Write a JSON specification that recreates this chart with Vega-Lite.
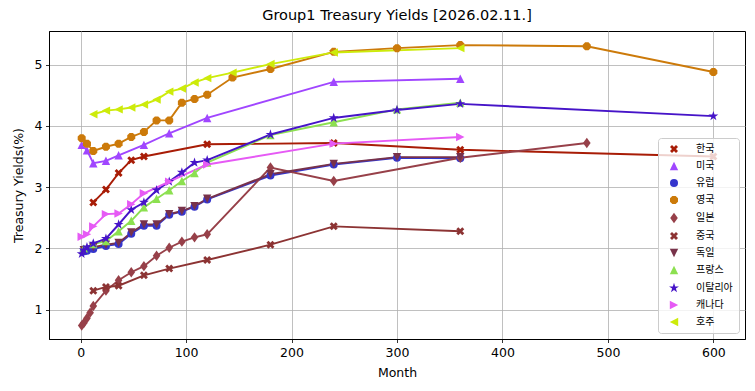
{
  "$schema": "https://vega.github.io/schema/vega-lite/v6.json",
  "autosize": "none",
  "width": 696,
  "height": 308,
  "padding": {"left": 49, "top": 31, "right": 10, "bottom": 52},
  "background": "white",
  "title": {"text": "Group1 Treasury Yields [2026.02.11.]", "font": "DejaVu Sans", "fontSize": 14.5, "fontWeight": "normal", "color": "black", "anchor": "middle", "offset": 8},
  "datasets": {
    "yields": [
      {"c": "한국", "m": 12, "y": 2.75}, {"c": "한국", "m": 24, "y": 2.96}, {"c": "한국", "m": 36, "y": 3.23}, {"c": "한국", "m": 48, "y": 3.44}, {"c": "한국", "m": 60, "y": 3.50}, {"c": "한국", "m": 120, "y": 3.70}, {"c": "한국", "m": 240, "y": 3.72}, {"c": "한국", "m": 360, "y": 3.61}, {"c": "한국", "m": 600, "y": 3.50},
      {"c": "미국", "m": 1, "y": 3.69}, {"c": "미국", "m": 6, "y": 3.60}, {"c": "미국", "m": 12, "y": 3.39}, {"c": "미국", "m": 24, "y": 3.43}, {"c": "미국", "m": 36, "y": 3.52}, {"c": "미국", "m": 60, "y": 3.69}, {"c": "미국", "m": 84, "y": 3.88}, {"c": "미국", "m": 120, "y": 4.13}, {"c": "미국", "m": 240, "y": 4.72}, {"c": "미국", "m": 360, "y": 4.77},
      {"c": "유럽", "m": 3, "y": 1.95}, {"c": "유럽", "m": 6, "y": 1.96}, {"c": "유럽", "m": 12, "y": 1.99}, {"c": "유럽", "m": 24, "y": 2.04}, {"c": "유럽", "m": 36, "y": 2.07}, {"c": "유럽", "m": 48, "y": 2.24}, {"c": "유럽", "m": 60, "y": 2.37}, {"c": "유럽", "m": 72, "y": 2.37}, {"c": "유럽", "m": 84, "y": 2.55}, {"c": "유럽", "m": 96, "y": 2.60}, {"c": "유럽", "m": 108, "y": 2.68}, {"c": "유럽", "m": 120, "y": 2.80}, {"c": "유럽", "m": 180, "y": 3.19}, {"c": "유럽", "m": 240, "y": 3.37}, {"c": "유럽", "m": 300, "y": 3.48}, {"c": "유럽", "m": 360, "y": 3.47},
      {"c": "영국", "m": 1, "y": 3.80}, {"c": "영국", "m": 6, "y": 3.71}, {"c": "영국", "m": 12, "y": 3.59}, {"c": "영국", "m": 24, "y": 3.66}, {"c": "영국", "m": 36, "y": 3.71}, {"c": "영국", "m": 48, "y": 3.82}, {"c": "영국", "m": 60, "y": 3.90}, {"c": "영국", "m": 72, "y": 4.09}, {"c": "영국", "m": 84, "y": 4.09}, {"c": "영국", "m": 96, "y": 4.38}, {"c": "영국", "m": 108, "y": 4.44}, {"c": "영국", "m": 120, "y": 4.51}, {"c": "영국", "m": 144, "y": 4.79}, {"c": "영국", "m": 180, "y": 4.93}, {"c": "영국", "m": 240, "y": 5.21}, {"c": "영국", "m": 300, "y": 5.27}, {"c": "영국", "m": 360, "y": 5.32}, {"c": "영국", "m": 480, "y": 5.30}, {"c": "영국", "m": 600, "y": 4.88},
      {"c": "일본", "m": 1, "y": 0.74}, {"c": "일본", "m": 3, "y": 0.78}, {"c": "일본", "m": 6, "y": 0.86}, {"c": "일본", "m": 9, "y": 0.95}, {"c": "일본", "m": 12, "y": 1.06}, {"c": "일본", "m": 24, "y": 1.31}, {"c": "일본", "m": 36, "y": 1.48}, {"c": "일본", "m": 48, "y": 1.61}, {"c": "일본", "m": 60, "y": 1.71}, {"c": "일본", "m": 72, "y": 1.88}, {"c": "일본", "m": 84, "y": 2.01}, {"c": "일본", "m": 96, "y": 2.11}, {"c": "일본", "m": 108, "y": 2.18}, {"c": "일본", "m": 120, "y": 2.23}, {"c": "일본", "m": 180, "y": 3.32}, {"c": "일본", "m": 240, "y": 3.10}, {"c": "일본", "m": 360, "y": 3.48}, {"c": "일본", "m": 480, "y": 3.72},
      {"c": "중국", "m": 12, "y": 1.31}, {"c": "중국", "m": 24, "y": 1.37}, {"c": "중국", "m": 36, "y": 1.39}, {"c": "중국", "m": 60, "y": 1.56}, {"c": "중국", "m": 84, "y": 1.67}, {"c": "중국", "m": 120, "y": 1.81}, {"c": "중국", "m": 180, "y": 2.06}, {"c": "중국", "m": 240, "y": 2.36}, {"c": "중국", "m": 360, "y": 2.28},
      {"c": "독일", "m": 3, "y": 1.97}, {"c": "독일", "m": 12, "y": 2.02}, {"c": "독일", "m": 24, "y": 2.06}, {"c": "독일", "m": 36, "y": 2.09}, {"c": "독일", "m": 48, "y": 2.26}, {"c": "독일", "m": 60, "y": 2.39}, {"c": "독일", "m": 72, "y": 2.39}, {"c": "독일", "m": 84, "y": 2.56}, {"c": "독일", "m": 96, "y": 2.61}, {"c": "독일", "m": 108, "y": 2.69}, {"c": "독일", "m": 120, "y": 2.81}, {"c": "독일", "m": 180, "y": 3.21}, {"c": "독일", "m": 240, "y": 3.38}, {"c": "독일", "m": 300, "y": 3.49}, {"c": "독일", "m": 360, "y": 3.49},
      {"c": "프랑스", "m": 3, "y": 2.00}, {"c": "프랑스", "m": 12, "y": 2.07}, {"c": "프랑스", "m": 24, "y": 2.12}, {"c": "프랑스", "m": 36, "y": 2.28}, {"c": "프랑스", "m": 48, "y": 2.45}, {"c": "프랑스", "m": 60, "y": 2.67}, {"c": "프랑스", "m": 72, "y": 2.81}, {"c": "프랑스", "m": 84, "y": 2.95}, {"c": "프랑스", "m": 96, "y": 3.10}, {"c": "프랑스", "m": 108, "y": 3.23}, {"c": "프랑스", "m": 120, "y": 3.40}, {"c": "프랑스", "m": 180, "y": 3.85}, {"c": "프랑스", "m": 240, "y": 4.06}, {"c": "프랑스", "m": 300, "y": 4.27}, {"c": "프랑스", "m": 360, "y": 4.38},
      {"c": "이탈리아", "m": 1, "y": 1.91}, {"c": "이탈리아", "m": 3, "y": 1.97}, {"c": "이탈리아", "m": 6, "y": 2.02}, {"c": "이탈리아", "m": 12, "y": 2.08}, {"c": "이탈리아", "m": 24, "y": 2.16}, {"c": "이탈리아", "m": 36, "y": 2.39}, {"c": "이탈리아", "m": 48, "y": 2.63}, {"c": "이탈리아", "m": 60, "y": 2.75}, {"c": "이탈리아", "m": 72, "y": 2.95}, {"c": "이탈리아", "m": 84, "y": 3.09}, {"c": "이탈리아", "m": 96, "y": 3.24}, {"c": "이탈리아", "m": 108, "y": 3.40}, {"c": "이탈리아", "m": 120, "y": 3.44}, {"c": "이탈리아", "m": 180, "y": 3.86}, {"c": "이탈리아", "m": 240, "y": 4.13}, {"c": "이탈리아", "m": 300, "y": 4.26}, {"c": "이탈리아", "m": 360, "y": 4.36}, {"c": "이탈리아", "m": 600, "y": 4.16},
      {"c": "캐나다", "m": 1, "y": 2.19}, {"c": "캐나다", "m": 6, "y": 2.23}, {"c": "캐나다", "m": 12, "y": 2.36}, {"c": "캐나다", "m": 24, "y": 2.56}, {"c": "캐나다", "m": 36, "y": 2.57}, {"c": "캐나다", "m": 48, "y": 2.72}, {"c": "캐나다", "m": 60, "y": 2.90}, {"c": "캐나다", "m": 84, "y": 3.09}, {"c": "캐나다", "m": 120, "y": 3.37}, {"c": "캐나다", "m": 240, "y": 3.71}, {"c": "캐나다", "m": 360, "y": 3.82},
      {"c": "호주", "m": 12, "y": 4.19}, {"c": "호주", "m": 24, "y": 4.25}, {"c": "호주", "m": 36, "y": 4.27}, {"c": "호주", "m": 48, "y": 4.30}, {"c": "호주", "m": 60, "y": 4.35}, {"c": "호주", "m": 72, "y": 4.43}, {"c": "호주", "m": 84, "y": 4.56}, {"c": "호주", "m": 96, "y": 4.61}, {"c": "호주", "m": 108, "y": 4.71}, {"c": "호주", "m": 120, "y": 4.78}, {"c": "호주", "m": 144, "y": 4.87}, {"c": "호주", "m": 180, "y": 5.01}, {"c": "호주", "m": 240, "y": 5.20}, {"c": "호주", "m": 360, "y": 5.27}
    ]
  },
  "data": {"name": "yields"},
  "encoding": {
    "x": {"field": "m", "type": "quantitative", "title": "Month",
      "scale": {"domain": [-30, 630], "nice": false, "zero": false},
      "axis": {"values": [0, 100, 200, 300, 400, 500, 600]}},
    "y": {"field": "y", "type": "quantitative", "title": "Treasury Yields(%)",
      "scale": {"domain": [0.52, 5.55], "nice": false, "zero": false},
      "axis": {"values": [1, 2, 3, 4, 5]}},
    "color": {"field": "c", "type": "nominal", "title": null,
      "scale": {
        "domain": ["한국", "미국", "유럽", "영국", "일본", "중국", "독일", "프랑스", "이탈리아", "캐나다", "호주"],
        "range": ["#a81c06", "#a046ff", "#3535cc", "#cc7a0a", "#974049", "#8c3333", "#78324a", "#8ce050", "#4614c8", "#e65af5", "#cdeb0a"]
      },
      "legend": {
        "encode": {
          "symbols": {
            "update": {
              "shape": {"signal": "({'한국': 'M-1,-0.5L-0.5,-1L0,-0.5L0.5,-1L1,-0.5L0.5,0L1,0.5L0.5,1L0,0.5L-0.5,1L-1,0.5L-0.5,0ZM-2.5,-0.24L2.5,-0.24L2.5,0.24L-2.5,0.24Z', '미국': 'M0,-1.05L1.05,1.05L-1.05,1.05ZM-2.5,-0.24L2.5,-0.24L2.5,0.24L-2.5,0.24Z', '유럽': 'M1.13,0A1.13,1.13,0,1,1,-1.13,0A1.13,1.13,0,1,1,1.13,0ZM-2.5,-0.24L2.5,-0.24L2.5,0.24L-2.5,0.24Z', '영국': 'M1.0,0.42L0.42,1.0L-0.42,1.0L-1.0,0.42L-1.0,-0.42L-0.42,-1.0L0.42,-1.0L1.0,-0.42ZM-2.5,-0.24L2.5,-0.24L2.5,0.24L-2.5,0.24Z', '일본': 'M0,-1.3L0.95,0L0,1.3L-0.95,0ZM-2.5,-0.24L2.5,-0.24L2.5,0.24L-2.5,0.24Z', '중국': 'M-1,-0.5L-0.5,-1L0,-0.5L0.5,-1L1,-0.5L0.5,0L1,0.5L0.5,1L0,0.5L-0.5,1L-1,0.5L-0.5,0ZM-2.5,-0.24L2.5,-0.24L2.5,0.24L-2.5,0.24Z', '독일': 'M0,1.05L-1.05,-1.05L1.05,-1.05ZM-2.5,-0.24L2.5,-0.24L2.5,0.24L-2.5,0.24Z', '프랑스': 'M0,-1.05L1.05,1.05L-1.05,1.05ZM-2.5,-0.24L2.5,-0.24L2.5,0.24L-2.5,0.24Z', '이탈리아': 'M0,-1.3L0.292,-0.402L1.236,-0.402L0.472,0.153L0.764,1.052L0,0.497L-0.764,1.052L-0.472,0.153L-1.236,-0.402L-0.292,-0.402ZM-2.5,-0.24L2.5,-0.24L2.5,0.24L-2.5,0.24Z', '캐나다': 'M1.05,0L-1.05,1.05L-1.05,-1.05ZM-2.5,-0.24L2.5,-0.24L2.5,0.24L-2.5,0.24Z', '호주': 'M-1.05,0L1.05,-1.05L1.05,1.05ZM-2.5,-0.24L2.5,-0.24L2.5,0.24L-2.5,0.24Z'})[datum.value]"}
            }
          }
        }
      }}
  },
  "layer": [
    {"mark": {"type": "line", "strokeWidth": 1.9}},
    {"mark": {"type": "point", "filled": true, "opacity": 1, "size": 64},
      "encoding": {
        "shape": {"field": "c", "type": "nominal", "title": null,
          "legend": {
            "encode": {
              "symbols": {
                "update": {
                  "shape": {"signal": "({'한국': 'M-1,-0.5L-0.5,-1L0,-0.5L0.5,-1L1,-0.5L0.5,0L1,0.5L0.5,1L0,0.5L-0.5,1L-1,0.5L-0.5,0ZM-2.5,-0.24L2.5,-0.24L2.5,0.24L-2.5,0.24Z', '미국': 'M0,-1.05L1.05,1.05L-1.05,1.05ZM-2.5,-0.24L2.5,-0.24L2.5,0.24L-2.5,0.24Z', '유럽': 'M1.13,0A1.13,1.13,0,1,1,-1.13,0A1.13,1.13,0,1,1,1.13,0ZM-2.5,-0.24L2.5,-0.24L2.5,0.24L-2.5,0.24Z', '영국': 'M1.0,0.42L0.42,1.0L-0.42,1.0L-1.0,0.42L-1.0,-0.42L-0.42,-1.0L0.42,-1.0L1.0,-0.42ZM-2.5,-0.24L2.5,-0.24L2.5,0.24L-2.5,0.24Z', '일본': 'M0,-1.3L0.95,0L0,1.3L-0.95,0ZM-2.5,-0.24L2.5,-0.24L2.5,0.24L-2.5,0.24Z', '중국': 'M-1,-0.5L-0.5,-1L0,-0.5L0.5,-1L1,-0.5L0.5,0L1,0.5L0.5,1L0,0.5L-0.5,1L-1,0.5L-0.5,0ZM-2.5,-0.24L2.5,-0.24L2.5,0.24L-2.5,0.24Z', '독일': 'M0,1.05L-1.05,-1.05L1.05,-1.05ZM-2.5,-0.24L2.5,-0.24L2.5,0.24L-2.5,0.24Z', '프랑스': 'M0,-1.05L1.05,1.05L-1.05,1.05ZM-2.5,-0.24L2.5,-0.24L2.5,0.24L-2.5,0.24Z', '이탈리아': 'M0,-1.3L0.292,-0.402L1.236,-0.402L0.472,0.153L0.764,1.052L0,0.497L-0.764,1.052L-0.472,0.153L-1.236,-0.402L-0.292,-0.402ZM-2.5,-0.24L2.5,-0.24L2.5,0.24L-2.5,0.24Z', '캐나다': 'M1.05,0L-1.05,1.05L-1.05,-1.05ZM-2.5,-0.24L2.5,-0.24L2.5,0.24L-2.5,0.24Z', '호주': 'M-1.05,0L1.05,-1.05L1.05,1.05ZM-2.5,-0.24L2.5,-0.24L2.5,0.24L-2.5,0.24Z'})[datum.value]"}
                }
              }
            }
          },
          "scale": {
            "domain": ["한국", "미국", "유럽", "영국", "일본", "중국", "독일", "프랑스", "이탈리아", "캐나다", "호주"],
            "range": [
              "M-1,-0.5L-0.5,-1L0,-0.5L0.5,-1L1,-0.5L0.5,0L1,0.5L0.5,1L0,0.5L-0.5,1L-1,0.5L-0.5,0Z",
              "M0,-1.05L1.05,1.05L-1.05,1.05Z",
              "circle",
              "M1.0,0.42L0.42,1.0L-0.42,1.0L-1.0,0.42L-1.0,-0.42L-0.42,-1.0L0.42,-1.0L1.0,-0.42Z",
              "M0,-1.3L0.95,0L0,1.3L-0.95,0Z",
              "M-1,-0.5L-0.5,-1L0,-0.5L0.5,-1L1,-0.5L0.5,0L1,0.5L0.5,1L0,0.5L-0.5,1L-1,0.5L-0.5,0Z",
              "M0,1.05L-1.05,-1.05L1.05,-1.05Z",
              "M0,-1.05L1.05,1.05L-1.05,1.05Z",
              "M0,-1.3L0.292,-0.402L1.236,-0.402L0.472,0.153L0.764,1.052L0,0.497L-0.764,1.052L-0.472,0.153L-1.236,-0.402L-0.292,-0.402Z",
              "M1.05,0L-1.05,1.05L-1.05,-1.05Z",
              "M-1.05,0L1.05,-1.05L1.05,1.05Z"
            ]
          }}
      }}
  ],
  "config": {
    "font": "DejaVu Sans",
    "view": {"stroke": "black", "strokeWidth": 1},
    "axis": {
      "labelFont": "DejaVu Sans", "labelFontSize": 12.5, "labelColor": "black",
      "titleFont": "DejaVu Sans", "titleFontSize": 12.5, "titleFontWeight": "normal", "titleColor": "black",
      "grid": true, "gridColor": "#b0b0b0", "gridWidth": 0.8,
      "domain": true, "domainColor": "black", "domainWidth": 1,
      "ticks": true, "tickColor": "black", "tickSize": 3.5, "tickWidth": 0.8,
      "labelPadding": 3.5
    },
    "axisX": {"titlePadding": 8},
    "axisY": {"titlePadding": 9},
    "legend": {
      "orient": "bottom-right", "offset": 6,
      "fillColor": "rgba(255,255,255,0.8)", "strokeColor": "#cccccc", "cornerRadius": 3,
      "padding": 6, "rowPadding": 7,
      "labelFont": "Noto Sans CJK KR", "labelFontSize": 10, "labelColor": "black",
      "symbolSize": 64, "symbolOffset": 5, "labelOffset": 17, "symbolStrokeWidth": 0
    }
  }
}
